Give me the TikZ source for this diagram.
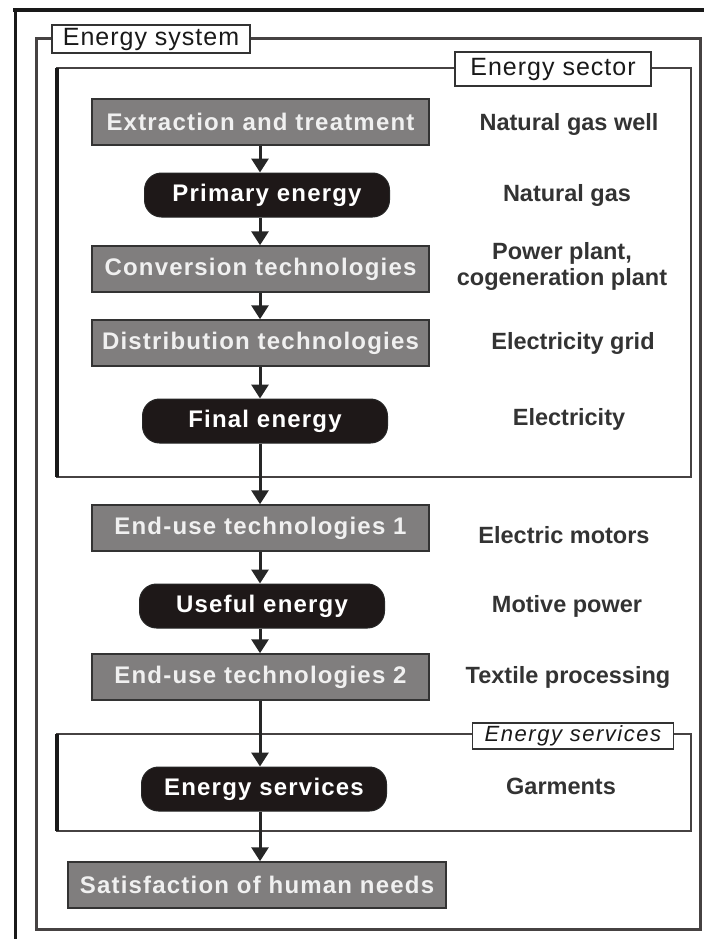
\documentclass[tikz,border=0pt]{standalone}
\usepackage{fontspec}
\setmainfont{Liberation Sans}
\newfontfamily\boxfont[LetterSpace=5]{Liberation Sans}
\newfontfamily\framefont[LetterSpace=4]{Liberation Sans}
\newfontfamily\servfont[LetterSpace=7]{Liberation Sans}
\usepackage{xcolor}
\usetikzlibrary{calc,arrows.meta}

\definecolor{boxgray}{RGB}{128,126,126}
\definecolor{pillblack}{RGB}{30,24,24}
\definecolor{linegray}{RGB}{70,66,66}

\begin{document}
\begin{tikzpicture}[x=1pt,y=-1pt,every node/.style={inner sep=0pt},
	techbox/.style={draw=black!80,line width=1.5pt,fill=boxgray,text=white!94!black,
		minimum width=337pt,minimum height=46pt,font=\boxfont\bfseries\fontsize{24}{26}\selectfont},
	formbox/.style={draw=black!85,line width=1pt,fill=pillblack,rounded corners=17pt,text=white,
		minimum width=245pt,minimum height=44pt,font=\boxfont\bfseries\fontsize{24}{26}\selectfont},
	example/.style={text=black!80,align=center,font=\bfseries\fontsize{23.5}{26}\selectfont},
	framelabel/.style={draw=black!80,line width=2pt,fill=white,text=black!90,
		font=\framefont\fontsize{25}{27}\selectfont},
	flow/.style={line width=3pt,draw=black!85,-{Triangle[width=17pt,length=14pt]}}]
				\useasboundingbox (0,0) rectangle (704,939);
				%outer border, then the three frames
				\draw[line width=4pt,black!90] (13,10)--(704,10);
				\draw[line width=3pt,black!90] (15,10)--(15,939);
				\draw[line width=3pt,linegray] (36,39) rectangle (700,929);
				\draw[line width=2.5pt,linegray] (57,68) rectangle (691,477);
				\draw[line width=4pt,black!90] (57,68)--(57,477);
				\draw[line width=2.5pt,linegray] (57,734) rectangle (691,831);
				\draw[line width=4pt,black!90] (57,734)--(57,831);

				\node[framelabel,minimum width=198pt,minimum height=28pt] (system) at (151,39){Energy system};
				\node[framelabel,minimum width=196pt,minimum height=34pt] (sector) at (553,69){Energy sector};
				\node[framelabel,line width=1.5pt,minimum width=201pt,minimum height=26pt,
					font=\servfont\itshape\fontsize{22}{24}\selectfont] (services) at (573,736){Energy services};

				%% chain of technologies and energy forms
				\coordinate (col) at (260,0);
				\coordinate (excol) at (567,0);
				\node[techbox] (ext) at (260.5,122){Extraction and treatment};
				\node[formbox] (prim) at (267,195){Primary energy};
				\node[techbox] (conv) at (260.5,269){Conversion technologies};
				\node[techbox] (dist) at (260.5,343){Distribution technologies};
				\node[formbox] (fin) at (265,421){Final energy};
				\node[techbox] (use1) at (260.5,528){End-use technologies 1};
				\node[formbox] (usef) at (262,606){Useful energy};
				\node[techbox] (use2) at (260.5,677){End-use technologies 2};
				\node[formbox] (serv) at (264,789){Energy services};
				\node[techbox,minimum width=378pt] (needs) at (257,885){Satisfaction of human needs};

				%% examples on the right
				\node[example] (wellex) at ($(ext -| excol)+(2,2)$){Natural gas well};
				\node[example] (gasex) at (prim -| excol){Natural gas};
				\node[example] (plantex) at ($(conv -| excol)+(-5,-3)$){Power plant,\\cogeneration plant};
				\node[example] (gridex) at ($(dist -| excol)+(6,0)$){Electricity grid};
				\node[example] (elecex) at ($(fin -| excol)+(2,-2)$){Electricity};
				\node[example] (motorex) at ($(use1 -| excol)+(-3,7)$){Electric motors};
				\node[example] (motiveex) at (usef -| excol){Motive power};
				\node[example] (textileex) at ($(use2 -| excol)+(1,0)$){Textile processing};
				\node[example] (garmentex) at ($(serv -| excol)+(-6,-3)$){Garments};

				%% vertical arrows drawn with a loop
				\foreach \a/\b in {ext/prim, prim/conv, conv/dist, dist/fin, fin/use1,
					use1/usef, usef/use2, use2/serv, serv/needs}{
					\draw[flow] (\a.south -| col)--(\b.north -| col);
					}
\end{tikzpicture}
\end{document}
